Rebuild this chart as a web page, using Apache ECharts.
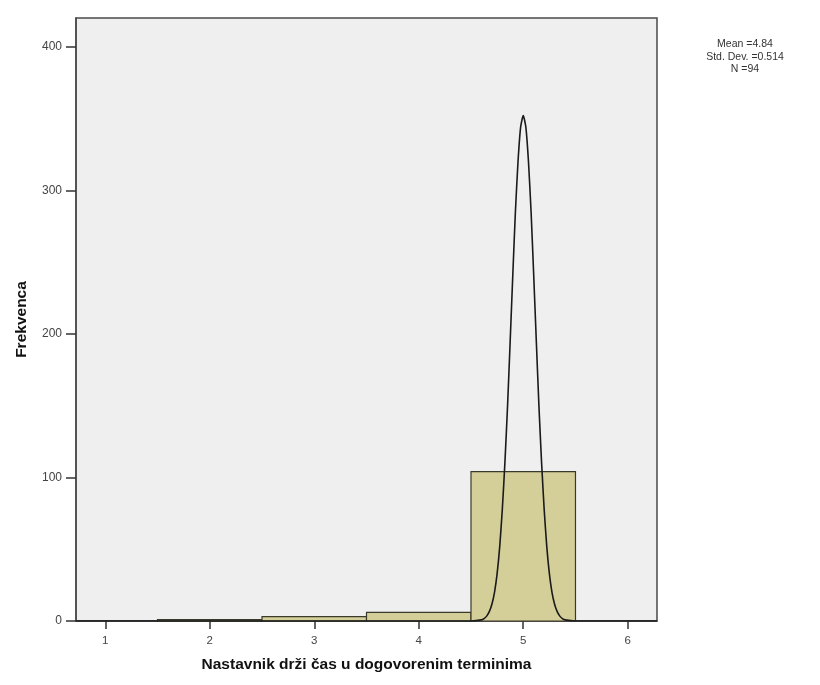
<!DOCTYPE html>
<html><head><meta charset="utf-8">
<script src="https://cdn.jsdelivr.net/npm/echarts@6/dist/echarts.min.js"></script>
<style>html,body{margin:0;padding:0;background:#fff}#c{width:820px;height:685px}</style>
</head><body><div id="c"></div>
<script>
// Histogram bins
var binStart = [1.5, 2.5, 3.5, 4.5];
var binEnd   = [2.5, 3.5, 4.5, 5.5];
var counts   = [1, 3, 6, 104];
// Tick labels
var xTicks = [1, 2, 3, 4, 5, 6];
var yTicks = [0, 100, 200, 300, 400];
// Normal curve points
var curveX = [0.72, 4.5, 4.6, 4.625, 4.65, 4.675, 4.7, 4.725, 4.75, 4.775, 4.8, 4.825, 4.85, 4.875, 4.9, 4.925, 4.95, 4.975, 5.0, 5.025, 5.05, 5.075, 5.1, 5.125, 5.15, 5.175, 5.2, 5.225, 5.25, 5.275, 5.3, 5.325, 5.35, 5.375, 5.4, 5.5, 6.28];
var curveY = [0, 0, 0.8, 1.7, 3.4, 6.5, 11.7, 20, 33, 52, 78, 111, 150, 195, 241, 285, 320, 344, 352, 344, 320, 285, 241, 195, 150, 111, 78, 52, 33, 20, 11.7, 6.5, 3.4, 1.7, 0.8, 0, 0];
var statsLines = ['Mean =4.84', 'Std. Dev. =0.514', 'N =94'];
var xTitle = 'Nastavnik drži čas u dogovorenim terminima';
var yTitle = 'Frekvenca';

var bars = binStart.map(function(s, i){ return [s, binEnd[i], counts[i]]; });
var curve = curveX.map(function(x, i){ return [x, curveY[i]]; });

var chart = echarts.init(document.getElementById('c'), null, {renderer:'canvas'});
var font = '"Liberation Sans", Arial, sans-serif';
chart.setOption({
  animation: false,
  backgroundColor: '#fff',
  grid: {left: 76, right: 163, top: 18, bottom: 64, containLabel: false, outerBoundsMode: 'none',
    show: true, backgroundColor: '#efefef', borderColor: '#4a4a4a', borderWidth: 1.5},
  xAxis: {
    type: 'value', min: 0.72, max: 6.28,
    name: xTitle, nameLocation: 'middle', nameGap: 36,
    nameTextStyle: {fontFamily: font, fontWeight: 'bold', fontSize: 15.5, color: '#111'},
    axisLine: {show: true, lineStyle: {color: '#4a4a4a', width: 1.5}},
    axisTick: {show: true, inside: false, length: 8, customValues: xTicks, lineStyle: {color: '#333', width: 1.5}},
    axisLabel: {customValues: xTicks, fontFamily: font, fontSize: 11.5, color: '#444', margin: 14},
    splitLine: {show: false}
  },
  yAxis: {
    type: 'value', min: 0, max: 420,
    name: yTitle, nameLocation: 'middle', nameGap: 46, nameRotate: 90,
    nameTextStyle: {fontFamily: font, fontWeight: 'bold', fontSize: 15.5, color: '#111'},
    axisLine: {show: true, lineStyle: {color: '#4a4a4a', width: 1.5}},
    axisTick: {show: true, length: 10, customValues: yTicks, lineStyle: {color: '#333', width: 1.5}},
    axisLabel: {customValues: yTicks, fontFamily: font, fontSize: 12, color: '#444', margin: 14},
    splitLine: {show: false}
  },
  series: [
    {
      type: 'custom',
      data: bars,
      encode: {x: [0, 1], y: 2},
      renderItem: function(params, api){
        var p0 = api.coord([api.value(0), api.value(2)]);
        var p1 = api.coord([api.value(1), 0]);
        return {type: 'rect', shape: {x: p0[0], y: p0[1], width: p1[0]-p0[0], height: p1[1]-p0[1]},
          style: {fill: '#d4cf98', stroke: '#3a3a2a', lineWidth: 1.2}};
      },
      z: 2
    },
    {
      type: 'line', data: curve, showSymbol: false, symbol: 'none', smooth: 0.2,
      lineStyle: {color: '#1a1a1a', width: 1.6}, z: 3
    }
  ],
  graphic: statsLines.map(function(t, i){
    return {type: 'text', x: 745, y: 39 + i*12.5,
      style: {text: t, fill: '#333', font: '10.5px ' + font, textAlign: 'center'}};
  })
});
</script></body></html>
